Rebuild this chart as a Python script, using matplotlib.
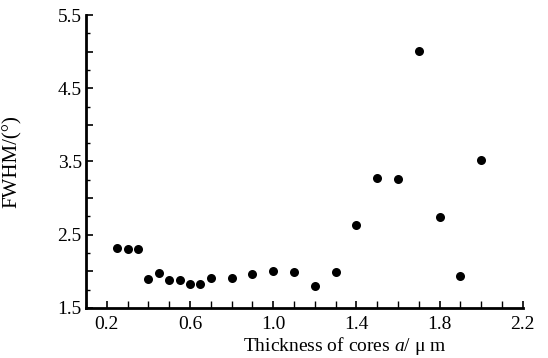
import matplotlib
matplotlib.use("Agg")
import matplotlib.pyplot as plt
from matplotlib.ticker import MultipleLocator, FuncFormatter

thickness = [0.25, 0.30, 0.35, 0.40, 0.45, 0.50, 0.55, 0.60, 0.65, 0.70,
             0.80, 0.90, 1.00, 1.10, 1.20, 1.30, 1.40, 1.50, 1.60, 1.70,
             1.80, 1.90, 2.00]
fwhm = [2.32, 2.30, 2.30, 1.90, 1.98, 1.88, 1.88, 1.83, 1.83, 1.91,
        1.91, 1.96, 2.01, 1.99, 1.80, 1.99, 2.63, 3.27, 3.26, 5.01,
        2.74, 1.94, 3.52]
x_labels = ["0.2", "0.6", "1.0", "1.4", "1.8", "2.2"]
y_labels = ["1.5", "2.5", "3.5", "4.5", "5.5"]

plt.rcParams['font.family'] = ['Liberation Serif', 'DejaVu Serif']
plt.rcParams['mathtext.fontset'] = 'custom'
plt.rcParams['mathtext.rm'] = 'Liberation Serif'
plt.rcParams['mathtext.it'] = 'Liberation Serif:italic'

fig = plt.figure(figsize=(5.48, 3.58), dpi=100)
ax = fig.add_axes([0.157, 0.140, 0.797, 0.818])

ax.plot(thickness, fwhm, linestyle='none', marker='o', markersize=6.5,
        color='black', markeredgewidth=0)

ax.set_xlim(0.1, 2.2)
ax.set_ylim(1.5, 5.5)

xt = [float(s) for s in x_labels]
ax.set_xticks(xt)
ax.set_xticklabels(x_labels)
ax.xaxis.set_minor_locator(MultipleLocator(0.1))

ax.yaxis.set_major_locator(MultipleLocator(0.5))
ax.yaxis.set_minor_locator(MultipleLocator(0.25))
ax.yaxis.set_major_formatter(FuncFormatter(
    lambda v, p: f"{v:.1f}" if f"{v:.1f}" in y_labels else ""))

for s in ['top', 'right']:
    ax.spines[s].set_visible(False)
for s in ['left', 'bottom']:
    ax.spines[s].set_linewidth(2)

ax.tick_params(axis='both', which='major', direction='in', length=5,
               width=1.2, labelsize=14, colors='black')
ax.tick_params(axis='both', which='minor', direction='in', length=3,
               width=1.0)
ax.tick_params(axis='x', which='minor', length=5)
ax.tick_params(axis='x', which='major', pad=6)
ax.tick_params(axis='y', which='major', pad=3)

ax.set_ylabel("FWHM/(°)", fontsize=15)
ax.yaxis.set_label_coords(-0.146, 0.5)
ax.set_xlabel("Thickness of cores $\\mathit{a}$/ μ m", fontsize=14)
ax.xaxis.set_label_coords(0.593, -0.093)

fig.savefig("out.png", dpi=100)
